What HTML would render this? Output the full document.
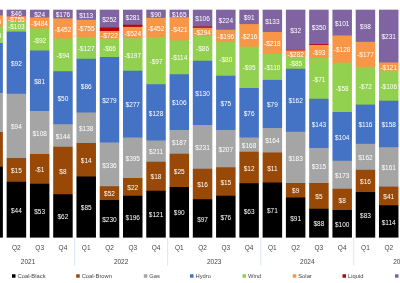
<!DOCTYPE html>
<html><head><meta charset="utf-8"><style>
html,body{margin:0;padding:0;background:#fff;width:400px;height:283px;overflow:hidden}
svg{display:block;will-change:transform}
text{font-family:"Liberation Sans",sans-serif}
.l{font-size:6.5px;fill:#fff;text-anchor:middle}
.a{font-size:6.5px;fill:#444;text-anchor:middle}
.g{font-size:5.8px;fill:#444}
</style></head><body>
<svg width="400" height="283" viewBox="0 0 400 283">
<line x1="0" y1="9.70" x2="400" y2="9.70" stroke="#c8d4e8" stroke-width="0.5" stroke-dasharray="1,1.5" opacity="0.6"/>
<line x1="0" y1="32.49" x2="400" y2="32.49" stroke="#c8d4e8" stroke-width="0.5" stroke-dasharray="1,1.5" opacity="0.6"/>
<line x1="0" y1="55.28" x2="400" y2="55.28" stroke="#c8d4e8" stroke-width="0.5" stroke-dasharray="1,1.5" opacity="0.6"/>
<line x1="0" y1="78.07" x2="400" y2="78.07" stroke="#c8d4e8" stroke-width="0.5" stroke-dasharray="1,1.5" opacity="0.6"/>
<line x1="0" y1="100.86" x2="400" y2="100.86" stroke="#c8d4e8" stroke-width="0.5" stroke-dasharray="1,1.5" opacity="0.6"/>
<line x1="0" y1="123.65" x2="400" y2="123.65" stroke="#c8d4e8" stroke-width="0.5" stroke-dasharray="1,1.5" opacity="0.6"/>
<line x1="0" y1="146.44" x2="400" y2="146.44" stroke="#c8d4e8" stroke-width="0.5" stroke-dasharray="1,1.5" opacity="0.6"/>
<line x1="0" y1="169.23" x2="400" y2="169.23" stroke="#c8d4e8" stroke-width="0.5" stroke-dasharray="1,1.5" opacity="0.6"/>
<line x1="0" y1="192.02" x2="400" y2="192.02" stroke="#c8d4e8" stroke-width="0.5" stroke-dasharray="1,1.5" opacity="0.6"/>
<line x1="0" y1="214.81" x2="400" y2="214.81" stroke="#c8d4e8" stroke-width="0.5" stroke-dasharray="1,1.5" opacity="0.6"/>
<line x1="0" y1="237.60" x2="400" y2="237.60" stroke="#c8d4e8" stroke-width="0.5" stroke-dasharray="1,1.5" opacity="0.6"/>
<mask id="c0" maskUnits="userSpaceOnUse" x="0" y="0" width="400" height="283"><rect x="-16.62" y="9.7" width="19.5" height="227.90" fill="#fff"/></mask><g mask="url(#c0)">
<rect x="-18.62" y="7.70" width="23.5" height="231.90" fill="#8064A2"/>
<rect x="-18.62" y="15.40" width="23.5" height="224.20" fill="#F79646"/>
<rect x="-18.62" y="26.20" width="23.5" height="213.40" fill="#92D050"/>
<rect x="-18.62" y="43.00" width="23.5" height="196.60" fill="#4472C4"/>
<rect x="-18.62" y="93.00" width="23.5" height="146.60" fill="#A5A5A5"/>
<rect x="-18.62" y="132.00" width="23.5" height="107.60" fill="#984807"/>
<rect x="-18.62" y="166.60" width="23.5" height="73.00" fill="#000000"/>
</g>
<text x="-6.87" y="15.69" class="l">$24</text>
<text x="-6.87" y="23.94" class="l">-$755</text>
<text x="-6.87" y="37.74" class="l">-$103</text>
<text x="-6.87" y="71.14" class="l">$92</text>
<text x="-6.87" y="115.64" class="l">$94</text>
<text x="-6.87" y="152.44" class="l">$15</text>
<text x="-6.87" y="205.24" class="l">$44</text>
<mask id="c1" maskUnits="userSpaceOnUse" x="0" y="0" width="400" height="283"><rect x="6.65" y="9.7" width="19.5" height="227.90" fill="#fff"/></mask><g mask="url(#c1)">
<rect x="4.65" y="7.70" width="23.5" height="231.90" fill="#8064A2"/>
<rect x="4.65" y="16.40" width="23.5" height="223.20" fill="#F79646"/>
<rect x="4.65" y="21.00" width="23.5" height="218.60" fill="#92D050"/>
<rect x="4.65" y="31.60" width="23.5" height="208.00" fill="#4472C4"/>
<rect x="4.65" y="93.75" width="23.5" height="145.85" fill="#A5A5A5"/>
<rect x="4.65" y="158.00" width="23.5" height="81.60" fill="#984807"/>
<rect x="4.65" y="181.75" width="23.5" height="57.85" fill="#000000"/>
</g>
<text x="16.40" y="16.19" class="l">$46</text>
<text x="16.40" y="21.84" class="l">-$755</text>
<text x="16.40" y="29.44" class="l">-$103</text>
<text x="16.40" y="65.81" class="l">$92</text>
<text x="16.40" y="129.02" class="l">$94</text>
<text x="16.40" y="173.02" class="l">$15</text>
<text x="16.40" y="212.82" class="l">$44</text>
<mask id="c2" maskUnits="userSpaceOnUse" x="0" y="0" width="400" height="283"><rect x="29.92" y="9.7" width="19.5" height="227.90" fill="#fff"/></mask><g mask="url(#c2)">
<rect x="27.92" y="7.70" width="23.5" height="231.90" fill="#8064A2"/>
<rect x="27.92" y="17.50" width="23.5" height="222.10" fill="#F79646"/>
<rect x="27.92" y="28.50" width="23.5" height="211.10" fill="#92D050"/>
<rect x="27.92" y="50.50" width="23.5" height="189.10" fill="#4472C4"/>
<rect x="27.92" y="111.00" width="23.5" height="128.60" fill="#A5A5A5"/>
<rect x="27.92" y="154.00" width="23.5" height="85.60" fill="#984807"/>
<rect x="27.92" y="183.75" width="23.5" height="55.85" fill="#000000"/>
</g>
<text x="39.67" y="16.74" class="l">$24</text>
<text x="39.67" y="26.14" class="l">-$484</text>
<text x="39.67" y="42.64" class="l">-$92</text>
<text x="39.67" y="83.89" class="l">$81</text>
<text x="39.67" y="135.64" class="l">$108</text>
<text x="39.67" y="172.02" class="l">-$1</text>
<text x="39.67" y="213.82" class="l">$53</text>
<mask id="c3" maskUnits="userSpaceOnUse" x="0" y="0" width="400" height="283"><rect x="53.19" y="9.7" width="19.5" height="227.90" fill="#fff"/></mask><g mask="url(#c3)">
<rect x="51.19" y="7.70" width="23.5" height="231.90" fill="#8064A2"/>
<rect x="51.19" y="18.40" width="23.5" height="221.20" fill="#F79646"/>
<rect x="51.19" y="38.60" width="23.5" height="201.00" fill="#92D050"/>
<rect x="51.19" y="71.25" width="23.5" height="168.35" fill="#4472C4"/>
<rect x="51.19" y="124.25" width="23.5" height="115.35" fill="#A5A5A5"/>
<rect x="51.19" y="146.75" width="23.5" height="92.85" fill="#984807"/>
<rect x="51.19" y="194.25" width="23.5" height="45.35" fill="#000000"/>
</g>
<text x="62.94" y="17.19" class="l">$176</text>
<text x="62.94" y="31.64" class="l">-$452</text>
<text x="62.94" y="58.06" class="l">-$94</text>
<text x="62.94" y="100.89" class="l">$50</text>
<text x="62.94" y="138.64" class="l">$144</text>
<text x="62.94" y="173.64" class="l">$8</text>
<text x="62.94" y="219.07" class="l">$62</text>
<mask id="c4" maskUnits="userSpaceOnUse" x="0" y="0" width="400" height="283"><rect x="76.46" y="9.7" width="19.5" height="227.90" fill="#fff"/></mask><g mask="url(#c4)">
<rect x="74.46" y="7.70" width="23.5" height="231.90" fill="#8064A2"/>
<rect x="74.46" y="19.75" width="23.5" height="219.85" fill="#F79646"/>
<rect x="74.46" y="36.90" width="23.5" height="202.70" fill="#92D050"/>
<rect x="74.46" y="58.75" width="23.5" height="180.85" fill="#4472C4"/>
<rect x="74.46" y="112.50" width="23.5" height="127.10" fill="#A5A5A5"/>
<rect x="74.46" y="143.00" width="23.5" height="96.60" fill="#984807"/>
<rect x="74.46" y="176.50" width="23.5" height="63.10" fill="#000000"/>
</g>
<text x="86.21" y="17.86" class="l">$113</text>
<text x="86.21" y="31.46" class="l">-$755</text>
<text x="86.21" y="50.97" class="l">-$127</text>
<text x="86.21" y="88.77" class="l">$86</text>
<text x="86.21" y="130.89" class="l">$138</text>
<text x="86.21" y="162.89" class="l">$14</text>
<text x="86.21" y="210.19" class="l">$85</text>
<mask id="c5" maskUnits="userSpaceOnUse" x="0" y="0" width="400" height="283"><rect x="99.73" y="9.7" width="19.5" height="227.90" fill="#fff"/></mask><g mask="url(#c5)">
<rect x="97.73" y="7.70" width="23.5" height="231.90" fill="#8064A2"/>
<rect x="97.73" y="27.50" width="23.5" height="212.10" fill="#C00000"/>
<rect x="97.73" y="31.00" width="23.5" height="208.60" fill="#F79646"/>
<rect x="97.73" y="38.75" width="23.5" height="200.85" fill="#92D050"/>
<rect x="97.73" y="57.00" width="23.5" height="182.60" fill="#4472C4"/>
<rect x="97.73" y="142.50" width="23.5" height="97.10" fill="#A5A5A5"/>
<rect x="97.73" y="186.25" width="23.5" height="53.35" fill="#984807"/>
<rect x="97.73" y="200.00" width="23.5" height="39.60" fill="#000000"/>
</g>
<text x="109.48" y="21.74" class="l">$252</text>
<text x="109.48" y="38.02" class="l">-$722</text>
<text x="109.48" y="51.02" class="l">-$66</text>
<text x="109.48" y="102.89" class="l">$279</text>
<text x="109.48" y="167.52" class="l">$336</text>
<text x="109.48" y="196.27" class="l">$52</text>
<text x="109.48" y="221.94" class="l">$230</text>
<mask id="c6" maskUnits="userSpaceOnUse" x="0" y="0" width="400" height="283"><rect x="123.00" y="9.7" width="19.5" height="227.90" fill="#fff"/></mask><g mask="url(#c6)">
<rect x="121.00" y="7.70" width="23.5" height="231.90" fill="#8064A2"/>
<rect x="121.00" y="24.75" width="23.5" height="214.85" fill="#C00000"/>
<rect x="121.00" y="26.90" width="23.5" height="212.70" fill="#F79646"/>
<rect x="121.00" y="38.30" width="23.5" height="201.30" fill="#92D050"/>
<rect x="121.00" y="70.75" width="23.5" height="168.85" fill="#4472C4"/>
<rect x="121.00" y="137.50" width="23.5" height="102.10" fill="#A5A5A5"/>
<rect x="121.00" y="178.00" width="23.5" height="61.60" fill="#984807"/>
<rect x="121.00" y="195.75" width="23.5" height="43.85" fill="#000000"/>
</g>
<text x="132.75" y="20.37" class="l">$281</text>
<text x="132.75" y="35.74" class="l">-$524</text>
<text x="132.75" y="57.66" class="l">-$197</text>
<text x="132.75" y="107.27" class="l">$277</text>
<text x="132.75" y="160.89" class="l">$395</text>
<text x="132.75" y="190.02" class="l">$22</text>
<text x="132.75" y="219.82" class="l">$196</text>
<mask id="c7" maskUnits="userSpaceOnUse" x="0" y="0" width="400" height="283"><rect x="146.27" y="9.7" width="19.5" height="227.90" fill="#fff"/></mask><g mask="url(#c7)">
<rect x="144.27" y="7.70" width="23.5" height="231.90" fill="#8064A2"/>
<rect x="144.27" y="17.80" width="23.5" height="221.80" fill="#F79646"/>
<rect x="144.27" y="37.00" width="23.5" height="202.60" fill="#92D050"/>
<rect x="144.27" y="84.25" width="23.5" height="155.35" fill="#4472C4"/>
<rect x="144.27" y="140.50" width="23.5" height="99.10" fill="#A5A5A5"/>
<rect x="144.27" y="161.75" width="23.5" height="77.85" fill="#984807"/>
<rect x="144.27" y="190.75" width="23.5" height="48.85" fill="#000000"/>
</g>
<text x="156.02" y="16.89" class="l">$90</text>
<text x="156.02" y="30.54" class="l">-$452</text>
<text x="156.02" y="63.77" class="l">-$97</text>
<text x="156.02" y="115.52" class="l">$128</text>
<text x="156.02" y="154.27" class="l">$211</text>
<text x="156.02" y="179.39" class="l">$18</text>
<text x="156.02" y="217.32" class="l">$121</text>
<mask id="c8" maskUnits="userSpaceOnUse" x="0" y="0" width="400" height="283"><rect x="169.54" y="9.7" width="19.5" height="227.90" fill="#fff"/></mask><g mask="url(#c8)">
<rect x="167.54" y="7.70" width="23.5" height="231.90" fill="#8064A2"/>
<rect x="167.54" y="17.25" width="23.5" height="222.35" fill="#F79646"/>
<rect x="167.54" y="40.40" width="23.5" height="199.20" fill="#92D050"/>
<rect x="167.54" y="74.25" width="23.5" height="165.35" fill="#4472C4"/>
<rect x="167.54" y="130.00" width="23.5" height="109.60" fill="#A5A5A5"/>
<rect x="167.54" y="153.75" width="23.5" height="85.85" fill="#984807"/>
<rect x="167.54" y="187.00" width="23.5" height="52.60" fill="#000000"/>
</g>
<text x="179.29" y="16.61" class="l">$165</text>
<text x="179.29" y="31.96" class="l">-$421</text>
<text x="179.29" y="60.47" class="l">-$114</text>
<text x="179.29" y="105.27" class="l">$106</text>
<text x="179.29" y="145.02" class="l">$187</text>
<text x="179.29" y="173.52" class="l">$25</text>
<text x="179.29" y="215.44" class="l">$90</text>
<mask id="c9" maskUnits="userSpaceOnUse" x="0" y="0" width="400" height="283"><rect x="192.81" y="9.7" width="19.5" height="227.90" fill="#fff"/></mask><g mask="url(#c9)">
<rect x="190.81" y="7.70" width="23.5" height="231.90" fill="#8064A2"/>
<rect x="190.81" y="26.50" width="23.5" height="213.10" fill="#C00000"/>
<rect x="190.81" y="27.75" width="23.5" height="211.85" fill="#F79646"/>
<rect x="190.81" y="35.50" width="23.5" height="204.10" fill="#92D050"/>
<rect x="190.81" y="60.75" width="23.5" height="178.85" fill="#4472C4"/>
<rect x="190.81" y="125.00" width="23.5" height="114.60" fill="#A5A5A5"/>
<rect x="190.81" y="168.75" width="23.5" height="70.85" fill="#984807"/>
<rect x="190.81" y="199.25" width="23.5" height="40.35" fill="#000000"/>
</g>
<text x="202.56" y="21.24" class="l">$106</text>
<text x="202.56" y="34.77" class="l">-$294</text>
<text x="202.56" y="51.27" class="l">-$86</text>
<text x="202.56" y="96.02" class="l">$130</text>
<text x="202.56" y="150.02" class="l">$231</text>
<text x="202.56" y="187.14" class="l">$16</text>
<text x="202.56" y="221.57" class="l">$97</text>
<mask id="c10" maskUnits="userSpaceOnUse" x="0" y="0" width="400" height="283"><rect x="216.08" y="9.7" width="19.5" height="227.90" fill="#fff"/></mask><g mask="url(#c10)">
<rect x="214.08" y="7.70" width="23.5" height="231.90" fill="#8064A2"/>
<rect x="214.08" y="29.70" width="23.5" height="209.90" fill="#F79646"/>
<rect x="214.08" y="42.10" width="23.5" height="197.50" fill="#92D050"/>
<rect x="214.08" y="75.75" width="23.5" height="163.85" fill="#4472C4"/>
<rect x="214.08" y="130.00" width="23.5" height="109.60" fill="#A5A5A5"/>
<rect x="214.08" y="167.30" width="23.5" height="72.30" fill="#984807"/>
<rect x="214.08" y="195.75" width="23.5" height="43.85" fill="#000000"/>
</g>
<text x="225.83" y="22.84" class="l">$224</text>
<text x="225.83" y="39.04" class="l">-$196</text>
<text x="225.83" y="62.06" class="l">-$80</text>
<text x="225.83" y="106.02" class="l">$75</text>
<text x="225.83" y="151.79" class="l">$207</text>
<text x="225.83" y="184.67" class="l">$15</text>
<text x="225.83" y="219.82" class="l">$76</text>
<mask id="c11" maskUnits="userSpaceOnUse" x="0" y="0" width="400" height="283"><rect x="239.35" y="9.7" width="19.5" height="227.90" fill="#fff"/></mask><g mask="url(#c11)">
<rect x="237.35" y="7.70" width="23.5" height="231.90" fill="#8064A2"/>
<rect x="237.35" y="24.10" width="23.5" height="215.50" fill="#F79646"/>
<rect x="237.35" y="46.70" width="23.5" height="192.90" fill="#92D050"/>
<rect x="237.35" y="88.00" width="23.5" height="151.60" fill="#4472C4"/>
<rect x="237.35" y="137.50" width="23.5" height="102.10" fill="#A5A5A5"/>
<rect x="237.35" y="151.75" width="23.5" height="87.85" fill="#984807"/>
<rect x="237.35" y="183.25" width="23.5" height="56.35" fill="#000000"/>
</g>
<text x="249.10" y="20.04" class="l">$91</text>
<text x="249.10" y="38.54" class="l">-$216</text>
<text x="249.10" y="70.49" class="l">-$95</text>
<text x="249.10" y="115.89" class="l">$76</text>
<text x="249.10" y="147.77" class="l">$168</text>
<text x="249.10" y="170.64" class="l">$12</text>
<text x="249.10" y="213.57" class="l">$63</text>
<mask id="c12" maskUnits="userSpaceOnUse" x="0" y="0" width="400" height="283"><rect x="262.62" y="9.7" width="19.5" height="227.90" fill="#fff"/></mask><g mask="url(#c12)">
<rect x="260.62" y="7.70" width="23.5" height="231.90" fill="#8064A2"/>
<rect x="260.62" y="32.00" width="23.5" height="207.60" fill="#F79646"/>
<rect x="260.62" y="53.75" width="23.5" height="185.85" fill="#92D050"/>
<rect x="260.62" y="79.90" width="23.5" height="159.70" fill="#4472C4"/>
<rect x="260.62" y="128.00" width="23.5" height="111.60" fill="#A5A5A5"/>
<rect x="260.62" y="152.50" width="23.5" height="87.10" fill="#984807"/>
<rect x="260.62" y="182.50" width="23.5" height="57.10" fill="#000000"/>
</g>
<text x="272.37" y="23.99" class="l">$133</text>
<text x="272.37" y="46.02" class="l">-$218</text>
<text x="272.37" y="69.97" class="l">-$110</text>
<text x="272.37" y="107.09" class="l">$79</text>
<text x="272.37" y="143.39" class="l">$164</text>
<text x="272.37" y="170.64" class="l">$11</text>
<text x="272.37" y="213.19" class="l">$71</text>
<mask id="c13" maskUnits="userSpaceOnUse" x="0" y="0" width="400" height="283"><rect x="285.89" y="9.7" width="19.5" height="227.90" fill="#fff"/></mask><g mask="url(#c13)">
<rect x="283.89" y="7.70" width="23.5" height="231.90" fill="#8064A2"/>
<rect x="283.89" y="49.90" width="23.5" height="189.70" fill="#C00000"/>
<rect x="283.89" y="50.40" width="23.5" height="189.20" fill="#F79646"/>
<rect x="283.89" y="56.90" width="23.5" height="182.70" fill="#92D050"/>
<rect x="283.89" y="68.75" width="23.5" height="170.85" fill="#4472C4"/>
<rect x="283.89" y="131.75" width="23.5" height="107.85" fill="#A5A5A5"/>
<rect x="283.89" y="183.00" width="23.5" height="56.60" fill="#984807"/>
<rect x="283.89" y="197.50" width="23.5" height="42.10" fill="#000000"/>
</g>
<text x="295.64" y="32.94" class="l">$32</text>
<text x="295.64" y="56.79" class="l">-$282</text>
<text x="295.64" y="65.97" class="l">-$85</text>
<text x="295.64" y="103.39" class="l">$162</text>
<text x="295.64" y="160.52" class="l">$183</text>
<text x="295.64" y="193.39" class="l">$9</text>
<text x="295.64" y="220.69" class="l">$91</text>
<mask id="c14" maskUnits="userSpaceOnUse" x="0" y="0" width="400" height="283"><rect x="309.16" y="9.7" width="19.5" height="227.90" fill="#fff"/></mask><g mask="url(#c14)">
<rect x="307.16" y="7.70" width="23.5" height="231.90" fill="#8064A2"/>
<rect x="307.16" y="44.20" width="23.5" height="195.40" fill="#C00000"/>
<rect x="307.16" y="45.00" width="23.5" height="194.60" fill="#F79646"/>
<rect x="307.16" y="58.00" width="23.5" height="181.60" fill="#92D050"/>
<rect x="307.16" y="98.75" width="23.5" height="140.85" fill="#4472C4"/>
<rect x="307.16" y="148.00" width="23.5" height="91.60" fill="#A5A5A5"/>
<rect x="307.16" y="183.00" width="23.5" height="56.60" fill="#984807"/>
<rect x="307.16" y="208.75" width="23.5" height="30.85" fill="#000000"/>
</g>
<text x="318.91" y="30.09" class="l">$350</text>
<text x="318.91" y="54.64" class="l">-$93</text>
<text x="318.91" y="81.52" class="l">-$71</text>
<text x="318.91" y="126.52" class="l">$143</text>
<text x="318.91" y="168.64" class="l">$315</text>
<text x="318.91" y="199.02" class="l">$5</text>
<text x="318.91" y="226.32" class="l">$88</text>
<mask id="c15" maskUnits="userSpaceOnUse" x="0" y="0" width="400" height="283"><rect x="332.43" y="9.7" width="19.5" height="227.90" fill="#fff"/></mask><g mask="url(#c15)">
<rect x="330.43" y="7.70" width="23.5" height="231.90" fill="#8064A2"/>
<rect x="330.43" y="35.50" width="23.5" height="204.10" fill="#F79646"/>
<rect x="330.43" y="62.75" width="23.5" height="176.85" fill="#92D050"/>
<rect x="330.43" y="112.00" width="23.5" height="127.60" fill="#4472C4"/>
<rect x="330.43" y="160.75" width="23.5" height="78.85" fill="#A5A5A5"/>
<rect x="330.43" y="188.75" width="23.5" height="50.85" fill="#984807"/>
<rect x="330.43" y="210.00" width="23.5" height="29.60" fill="#000000"/>
</g>
<text x="342.18" y="25.74" class="l">$101</text>
<text x="342.18" y="52.27" class="l">-$128</text>
<text x="342.18" y="90.52" class="l">-$58</text>
<text x="342.18" y="139.52" class="l">$104</text>
<text x="342.18" y="177.89" class="l">$173</text>
<text x="342.18" y="202.52" class="l">$8</text>
<text x="342.18" y="226.94" class="l">$100</text>
<mask id="c16" maskUnits="userSpaceOnUse" x="0" y="0" width="400" height="283"><rect x="355.70" y="9.7" width="19.5" height="227.90" fill="#fff"/></mask><g mask="url(#c16)">
<rect x="353.70" y="7.70" width="23.5" height="231.90" fill="#8064A2"/>
<rect x="353.70" y="41.80" width="23.5" height="197.80" fill="#F79646"/>
<rect x="353.70" y="66.80" width="23.5" height="172.80" fill="#92D050"/>
<rect x="353.70" y="104.60" width="23.5" height="135.00" fill="#4472C4"/>
<rect x="353.70" y="143.80" width="23.5" height="95.80" fill="#A5A5A5"/>
<rect x="353.70" y="169.80" width="23.5" height="69.80" fill="#984807"/>
<rect x="353.70" y="192.00" width="23.5" height="47.60" fill="#000000"/>
</g>
<text x="365.45" y="28.89" class="l">$98</text>
<text x="365.45" y="57.44" class="l">-$177</text>
<text x="365.45" y="88.84" class="l">-$72</text>
<text x="365.45" y="127.34" class="l">$116</text>
<text x="365.45" y="159.94" class="l">$162</text>
<text x="365.45" y="184.04" class="l">$16</text>
<text x="365.45" y="217.94" class="l">$83</text>
<mask id="c17" maskUnits="userSpaceOnUse" x="0" y="0" width="400" height="283"><rect x="378.97" y="9.7" width="19.5" height="227.90" fill="#fff"/></mask><g mask="url(#c17)">
<rect x="376.97" y="7.70" width="23.5" height="231.90" fill="#8064A2"/>
<rect x="376.97" y="62.50" width="23.5" height="177.10" fill="#F79646"/>
<rect x="376.97" y="70.60" width="23.5" height="169.00" fill="#92D050"/>
<rect x="376.97" y="100.70" width="23.5" height="138.90" fill="#4472C4"/>
<rect x="376.97" y="147.20" width="23.5" height="92.40" fill="#A5A5A5"/>
<rect x="376.97" y="186.60" width="23.5" height="53.00" fill="#984807"/>
<rect x="376.97" y="205.30" width="23.5" height="34.30" fill="#000000"/>
</g>
<text x="388.72" y="39.24" class="l">$231</text>
<text x="388.72" y="69.69" class="l">-$121</text>
<text x="388.72" y="88.79" class="l">-$106</text>
<text x="388.72" y="127.09" class="l">$158</text>
<text x="388.72" y="170.04" class="l">$161</text>
<text x="388.72" y="199.09" class="l">$41</text>
<text x="388.72" y="224.59" class="l">$114</text>
<line x1="74.58" y1="237.6" x2="74.58" y2="265.6" stroke="#d3def0" stroke-width="0.8"/>
<line x1="167.66" y1="237.6" x2="167.66" y2="265.6" stroke="#d3def0" stroke-width="0.8"/>
<line x1="260.74" y1="237.6" x2="260.74" y2="265.6" stroke="#d3def0" stroke-width="0.8"/>
<line x1="353.81" y1="237.6" x2="353.81" y2="265.6" stroke="#d3def0" stroke-width="0.8"/>
<text x="-6.87" y="249.9" class="a">Q1</text>
<text x="16.40" y="249.9" class="a">Q2</text>
<text x="39.67" y="249.9" class="a">Q3</text>
<text x="62.94" y="249.9" class="a">Q4</text>
<text x="86.21" y="249.9" class="a">Q1</text>
<text x="109.48" y="249.9" class="a">Q2</text>
<text x="132.75" y="249.9" class="a">Q3</text>
<text x="156.02" y="249.9" class="a">Q4</text>
<text x="179.29" y="249.9" class="a">Q1</text>
<text x="202.56" y="249.9" class="a">Q2</text>
<text x="225.83" y="249.9" class="a">Q3</text>
<text x="249.10" y="249.9" class="a">Q4</text>
<text x="272.37" y="249.9" class="a">Q1</text>
<text x="295.64" y="249.9" class="a">Q2</text>
<text x="318.91" y="249.9" class="a">Q3</text>
<text x="342.18" y="249.9" class="a">Q4</text>
<text x="365.45" y="249.9" class="a">Q1</text>
<text x="388.72" y="249.9" class="a">Q2</text>
<text x="28.04" y="263.7" class="a">2021</text>
<text x="121.12" y="263.7" class="a">2022</text>
<text x="214.19" y="263.7" class="a">2023</text>
<text x="307.27" y="263.7" class="a">2024</text>
<text x="400.36" y="263.7" class="a">2025</text>
<rect x="12.0" y="274.25" width="3.5" height="3.5" fill="#000000"/>
<text x="17.5" y="278.1" class="g">Coal-Black</text>
<rect x="76.2" y="274.25" width="3.5" height="3.5" fill="#984807"/>
<text x="81.7" y="278.1" class="g">Coal-Brown</text>
<rect x="143.8" y="274.25" width="3.5" height="3.5" fill="#A5A5A5"/>
<text x="149.3" y="278.1" class="g">Gas</text>
<rect x="190.0" y="274.25" width="3.5" height="3.5" fill="#4472C4"/>
<text x="195.5" y="278.1" class="g">Hydro</text>
<rect x="242.5" y="274.25" width="3.5" height="3.5" fill="#92D050"/>
<text x="248.0" y="278.1" class="g">Wind</text>
<rect x="292.75" y="274.25" width="3.5" height="3.5" fill="#F79646"/>
<text x="298.25" y="278.1" class="g">Solar</text>
<rect x="342.5" y="274.25" width="3.5" height="3.5" fill="#C00000"/>
<text x="348.0" y="278.1" class="g">Liquid</text>
<rect x="395.0" y="274.25" width="3.5" height="3.5" fill="#8064A2"/>
<text x="400.5" y="278.1" class="g">Battery</text>
</svg>
</body></html>
